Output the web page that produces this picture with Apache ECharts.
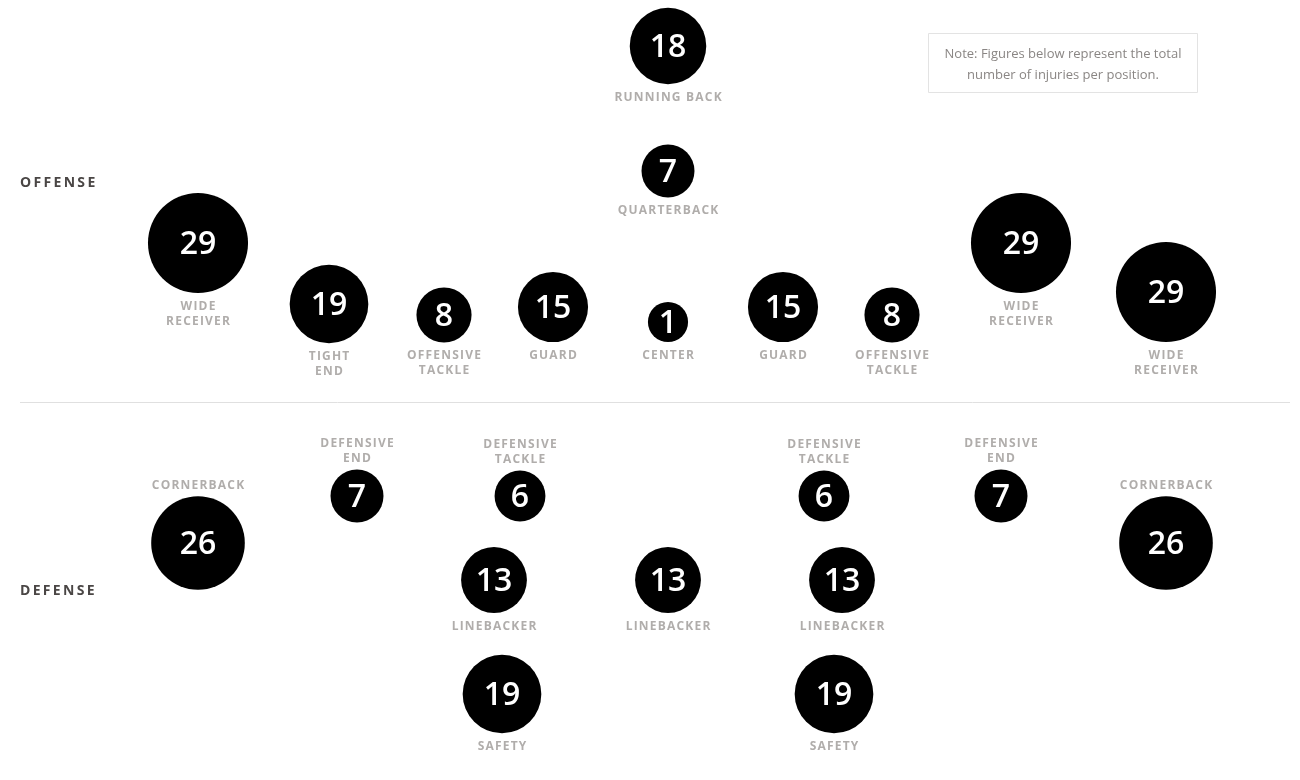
<!DOCTYPE html>
<html>
<head>
<meta charset="utf-8">
<script src="https://cdn.jsdelivr.net/npm/echarts@6/dist/echarts.min.js"></script>
<style>
html,body{margin:0;padding:0;background:#fff;}
#chart{width:1300px;height:780px;}
</style>
</head>
<body>
<div id="chart"></div>
<script>
// Positions on the field (chart coordinates), injury counts and names
const positions = ['RUNNING BACK','QUARTERBACK','WIDE\nRECEIVER','TIGHT\nEND','OFFENSIVE\nTACKLE','GUARD','CENTER','GUARD','OFFENSIVE\nTACKLE','WIDE\nRECEIVER','WIDE\nRECEIVER',
  'CORNERBACK','DEFENSIVE\nEND','DEFENSIVE\nTACKLE','DEFENSIVE\nTACKLE','DEFENSIVE\nEND','CORNERBACK','LINEBACKER','LINEBACKER','LINEBACKER','SAFETY','SAFETY'];
const injuries = [18,7,29,19,8,15,1,15,8,29,29, 26,7,6,6,7,26,13,13,13,19,19];
const fieldX = [668,668,198,329,444,553,668,783,892,1021,1166, 198,357,520,824,1001,1166,494,668,842,502,834];
const fieldY = [46,171,243,304,315,307,322,307,315,243,292, 543,496,496,496,496,543,580,580,580,694,694];
const labelSide = ['bottom','bottom','bottom','bottom','bottom','bottom','bottom','bottom','bottom','bottom','bottom',
  'top','top','top','top','top','top','bottom','bottom','bottom','bottom','bottom'];
const units = ['OFFENSE','DEFENSE'];
const note = 'Note: Figures below represent the total\nnumber of injuries per position.';

const sizeOf = v => 38 + 2.14 * v;
const labelColor = '#9c9896';
const font = '"Open Sans", sans-serif';
const spaced = (s, sep) => s.split('\n').map(l => l.split('').join(sep)).join('\n');

const bubbleData = injuries.map((v, i) => [fieldX[i], fieldY[i], v]);
const nameData = injuries.map((v, i) => ({
  value: [fieldX[i], fieldY[i], v],
  name: positions[i],
  label: { position: labelSide[i], distance: labelSide[i] === 'top' ? 3.5 : 6 }
}));

const chart = echarts.init(document.getElementById('chart'), null, {renderer: 'canvas'});
chart.setOption({
  animation: false,
  backgroundColor: '#fff',
  grid: { left: 0, right: 0, top: 0, bottom: 0 },
  xAxis: { type: 'value', min: 0, max: 1300, show: false },
  yAxis: { type: 'value', min: 0, max: 780, inverse: true, show: false },
  graphic: [
    { type: 'line', shape: { x1: 20, y1: 402.5, x2: 1290, y2: 402.5 }, style: { stroke: '#e0e0e0', lineWidth: 1 } },
    { type: 'text', left: 20, top: 176, style: { text: spaced(units[0], '\u2009'), font: 'bold 14px ' + font, fill: '#4a4645' } },
    { type: 'text', left: 20, top: 584, style: { text: spaced(units[1], '\u2009'), font: 'bold 14px ' + font, fill: '#4a4645' } },
    { type: 'rect', shape: { x: 928.5, y: 33.5, width: 269, height: 59 }, style: { fill: '#fff', stroke: '#e3e3e3', lineWidth: 1 } },
    { type: 'text', x: 1063, y: 65, style: { text: note, font: '13px ' + font, fill: '#8a8684', align: 'center', verticalAlign: 'middle', lineHeight: 21 } }
  ],
  series: [
    {
      type: 'scatter',
      data: bubbleData,
      symbolSize: d => sizeOf(d[2]),
      itemStyle: { color: '#000', opacity: 1 },
      label: {
        show: true, position: 'inside', formatter: p => p.value[2], offset: [0, 2],
        color: '#fff', fontSize: 32, fontFamily: font, fontWeight: 600
      },
      z: 2
    },
    {
      type: 'scatter',
      data: nameData,
      symbolSize: d => sizeOf(d[2]),
      itemStyle: { color: 'rgba(0,0,0,0)' },
      label: {
        show: true, formatter: p => spaced(p.name, '\u200A'),
        color: labelColor, fontSize: 12, fontWeight: 'bold', fontFamily: font,
        lineHeight: 15, align: 'center'
      },
      z: 3
    }
  ]
});
</script>
</body>
</html>
